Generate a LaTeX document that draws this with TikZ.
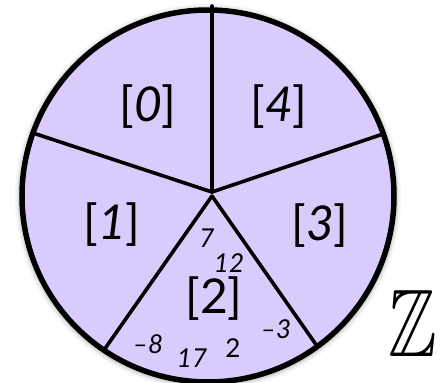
\documentclass[tikz,border=0pt]{standalone}
\usepackage{amssymb}
\usepackage{fontspec}
\setmainfont{Lato}
\definecolor{lav}{RGB}{217,204,252}
\begin{document}
\begin{tikzpicture}[x=1pt,y=-1pt,
  spoke/.style={line width=3.6pt,line cap=round},
  biglab/.style={font=\fontsize{48}{52}\selectfont,inner sep=0pt},
  smalllab/.style={font=\fontsize{26}{28}\selectfont\itshape,inner sep=0pt}]
\useasboundingbox (0,0) rectangle (440,383);
% soft shadow
\foreach \d/\o in {7/0.04,5/0.06,3.5/0.08}{
  \fill[black,opacity=\o] (208,197) circle (186+\d);
}
\fill[lav] (208,196) circle (186);
\draw[line width=5.5pt] (208,196) circle (186);
\coordinate (O) at (212,192);
\coordinate (O2) at (212,196);
\coordinate (T) at (212,6);
\coordinate (L) at (33,133);
\coordinate (R) at (383,134);
\coordinate (LL) at (104,350);
\coordinate (LR) at (317,346);
\draw[spoke] (O) -- (T);
\draw[spoke] (O) -- (L);
\draw[spoke] (O) -- (R);
\draw[spoke] (O2) -- (LL);
\draw[spoke] (O2) -- (LR);
\node[biglab] (c0) at (148,107) {[\textit{0}]};
\node[biglab] (c4) at (279,107) {[\textit{4}]};
\node[biglab] (c1) at (112,225) {[\textit{1}]};
\node[biglab] (c3) at (320,226) {[\textit{3}]};
\node[biglab] (c2) at (214,299) {[2]};
\node[smalllab] (n7) at (207,238) {7};
\node[smalllab] (n12) at (229,263) {12};
\node[smalllab] (nm3) at (276,329) {\char"2013 3};
\node[smalllab] (nm8) at (148,344) {\char"2013 8};
\node[smalllab] (n17) at (192,358) {17};
\node[smalllab,font=\fontsize{26}{28}\selectfont] (n2) at (233,348) {2};
\node[inner sep=0pt,font=\fontsize{96}{98}\selectfont] (Z) at (413,323) {\scalebox{0.76}[1]{$\mathbb{Z}$}};
\end{tikzpicture}
\end{document}
